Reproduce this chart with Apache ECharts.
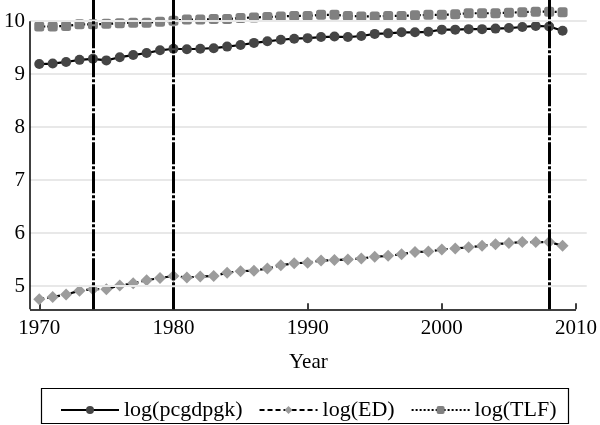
<!DOCTYPE html>
<html>
<head>
<meta charset="utf-8">
<script src="https://cdn.jsdelivr.net/npm/echarts@6/dist/echarts.min.js"></script>
<style>
html,body{margin:0;padding:0;background:#fff;}
#main{width:600px;height:425px;}
</style>
</head>
<body>
<div id="main"></div>
<script>
const years = [1970,1971,1972,1973,1974,1975,1976,1977,1978,1979,1980,1981,1982,1983,1984,1985,1986,1987,1988,1989,1990,1991,1992,1993,1994,1995,1996,1997,1998,1999,2000,2001,2002,2003,2004,2005,2006,2007,2008,2009];
const pcgdpgk = [9.19,9.20,9.23,9.27,9.29,9.26,9.32,9.36,9.40,9.45,9.48,9.47,9.48,9.49,9.52,9.55,9.59,9.62,9.65,9.67,9.68,9.70,9.71,9.70,9.72,9.76,9.77,9.79,9.79,9.80,9.84,9.84,9.85,9.85,9.86,9.87,9.89,9.91,9.90,9.82];
const ED = [4.75,4.79,4.84,4.91,4.94,4.94,5.01,5.05,5.11,5.15,5.19,5.16,5.18,5.19,5.25,5.28,5.29,5.33,5.39,5.43,5.44,5.48,5.49,5.50,5.52,5.55,5.57,5.60,5.64,5.65,5.69,5.71,5.73,5.76,5.79,5.81,5.83,5.83,5.83,5.76];
const TLF = [9.90,9.90,9.91,9.94,9.94,9.95,9.96,9.97,9.97,9.99,10.01,10.03,10.03,10.04,10.04,10.06,10.07,10.08,10.09,10.10,10.10,10.12,10.12,10.10,10.09,10.09,10.10,10.10,10.11,10.12,10.12,10.13,10.15,10.15,10.15,10.16,10.17,10.18,10.18,10.17];
const xTicks = [1970,1980,1990,2000,2010];
const yTicks = [5,6,7,8,9,10];
const eventYears = [1974,1980,2008];
const seriesNames = ['log(pcgdpgk)','log(ED)','log(TLF)'];

const X_MIN = 1969.31, X_MAX = 2010.8, Y_MIN = 4.56, Y_MAX = 10.40;
const FONT = 'Liberation Serif';

const chart = echarts.init(document.getElementById('main'), null, {renderer:'canvas'});
const pair = arr => years.map((y,i)=>[y,arr[i]]);

const option = {
  animation:false,
  backgroundColor:'#fff',
  grid:{left:30,right:11,top:0,bottom:115.7,containLabel:false},
  xAxis:{
    type:'value', min:X_MIN, max:X_MAX,
    axisLine:{show:false},
    splitLine:{show:false},
    axisTick:{show:true, inside:true, length:6, customValues:xTicks, lineStyle:{color:'#000',width:1.5}},
    axisLabel:{customValues:xTicks, fontSize:21, fontFamily:FONT, color:'#000', margin:9, formatter:v=>String(v)},
    name:'Year', nameLocation:'middle', nameGap:43,
    nameTextStyle:{fontSize:21, fontFamily:FONT, color:'#000'}
  },
  yAxis:{
    type:'value', min:Y_MIN, max:Y_MAX,
    axisLine:{show:false},
    splitLine:{show:false},
    axisTick:{show:true, inside:true, length:6, customValues:yTicks, lineStyle:{color:'#000',width:1.5}},
    axisLabel:{customValues:yTicks, fontSize:21, fontFamily:FONT, color:'#000', margin:5, formatter:v=>String(v)}
  },
  legend:{
    left:55, top:394, itemWidth:58, itemHeight:10, itemGap:16,
    textStyle:{fontSize:22, fontFamily:FONT, color:'#000', padding:[0,0,0,0]},
    data:seriesNames
  },
  graphic:[{
    type:'rect', shape:{x:41.5,y:388.5,width:527,height:35},
    style:{fill:'none',stroke:'#000',lineWidth:1.2}, silent:true
  }],
  series:[
    {
      type:'line', name:'_helper', data:[], silent:true, z:1, clip:false,
      markLine:{
        silent:true, symbol:'none', label:{show:false}, animation:false,
        data:[
          ...yTicks.map(v=>({yAxis:v, lineStyle:{color:'#e8e8e8',width:2.2,type:'solid'}})),
          ...eventYears.map(v=>({xAxis:v, lineStyle:{color:'#000',width:3,type:[22,2,3,2]}})),
          [{coord:[X_MIN,Y_MIN], lineStyle:{color:'#000',width:1.5,type:'solid'}},{coord:[2010,Y_MIN]}],
          [{coord:[X_MIN,Y_MIN], lineStyle:{color:'#000',width:1.5,type:'solid'}},{coord:[X_MIN,10]}]
        ]
      }
    },
    {
      type:'line', name:seriesNames[0], data:pair(pcgdpgk), z:3,
      symbol:'circle', symbolSize:10, showAllSymbol:true,
      lineStyle:{color:'#000', width:2.2, type:'solid'},
      itemStyle:{color:'#454545'}
    },
    {
      type:'line', name:seriesNames[1], data:pair(ED), z:3,
      symbol:'diamond', symbolSize:12, showAllSymbol:true,
      lineStyle:{color:'#000', width:2.2, type:[5,3]},
      itemStyle:{color:'#9c9c9c'}
    },
    {
      type:'line', name:seriesNames[2], data:pair(TLF), z:3,
      symbol:'roundRect', symbolSize:10, showAllSymbol:true,
      lineStyle:{color:'#000', width:2.2, type:[2,2]},
      itemStyle:{color:'#808080'}
    }
  ]
};
chart.setOption(option);
</script>
</body>
</html>
